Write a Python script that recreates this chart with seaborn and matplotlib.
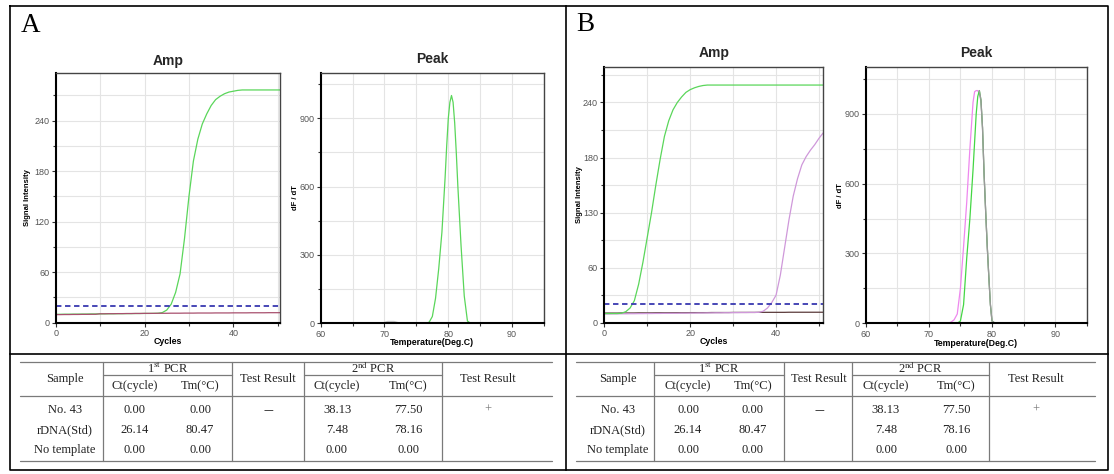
import matplotlib
matplotlib.use("Agg")
import matplotlib.pyplot as plt
import seaborn as sns
import pandas as pd
from matplotlib.ticker import MultipleLocator, FixedLocator

# ---------------- data ----------------
cycles = list(range(0, 52))
threshold = 20

A_amp_rdna = [10.0, 10.0, 10.1, 10.1, 10.2, 10.2, 10.3, 10.3, 10.4, 10.4,
              10.5, 10.5, 10.6, 10.6, 10.7, 10.7, 10.8, 10.8, 10.9, 10.9,
              11.0, 11.0, 11.1, 11.2, 12.0, 15.0, 22.0, 36.0, 58.0, 100.0,
              150.0, 192.0, 218.0, 236.0, 248.0, 258.0, 265.0, 269.0, 272.0, 274.0,
              275.0, 276.0, 276.5, 276.5, 276.5, 276.5, 276.5, 276.5, 276.5, 276.5,
              276.5, 276.5]
A_amp_no43 = [9.6, 9.6, 9.7, 9.7, 9.8, 9.8, 9.9, 9.9, 10.0, 10.0,
              10.6, 10.6, 10.7, 10.7, 10.8, 10.8, 10.9, 10.9, 11.0, 11.0,
              11.1, 11.1, 11.1, 11.2, 11.2, 11.2, 11.3, 11.3, 11.3, 11.4,
              11.4, 11.4, 11.5, 11.5, 11.5, 11.5, 11.6, 11.6, 11.6, 11.6,
              11.7, 11.7, 11.7, 11.7, 11.8, 11.8, 11.8, 11.8, 11.9, 11.9,
              11.9, 11.9]

B_amp_rdna = [10.0, 10.0, 10.0, 10.0, 10.3, 12.0, 16.0, 24.0, 42.0, 66.0,
              93.0, 120.0, 150.0, 178.0, 203.0, 220.0, 232.0, 240.0, 246.0, 251.0,
              254.0, 256.0, 257.5, 258.5, 259.0, 259.0, 259.0, 259.0, 259.0, 259.0,
              259.0, 259.0, 259.0, 259.0, 259.0, 259.0, 259.0, 259.0, 259.0, 259.0,
              259.0, 259.0, 259.0, 259.0, 259.0, 259.0, 259.0, 259.0, 259.0, 259.0,
              259.0, 259.0]
B_amp_no43 = [9.5, 9.5, 9.6, 9.6, 9.7, 9.7, 9.8, 9.8, 9.9, 9.9,
              10.0, 10.0, 10.1, 10.1, 10.2, 10.2, 10.3, 10.3, 10.4, 10.4,
              10.5, 10.5, 10.6, 10.6, 10.7, 10.7, 10.8, 10.8, 10.9, 10.9,
              11.0, 11.0, 11.1, 11.1, 11.2, 11.2, 11.3, 12.5, 16.0, 22.0,
              30.0, 52.0, 82.0, 112.0, 138.0, 157.0, 172.0, 181.0, 188.0, 194.0,
              201.0, 207.0]
B_amp_ntc = [10.5, 10.5, 10.5, 10.5, 10.6, 10.6, 10.6, 10.6, 10.7, 10.7,
             10.7, 10.7, 10.8, 10.8, 10.8, 10.8, 10.9, 10.9, 10.9, 10.9,
             11.0, 11.0, 11.0, 11.0, 11.0, 11.1, 11.1, 11.1, 11.1, 11.1,
             11.2, 11.2, 11.2, 11.2, 11.2, 11.2, 11.3, 11.3, 11.3, 11.3,
             11.3, 11.3, 11.3, 11.4, 11.4, 11.4, 11.4, 11.4, 11.4, 11.4,
             11.4, 11.4]

A_peak_rdna_T = [60, 76.5, 77, 77.5, 78, 78.5, 79, 79.5, 79.75, 80, 80.25, 80.5,
                 80.75, 81, 81.25, 81.5, 82, 82.5, 83, 83.5, 95]
A_peak_rdna_dF = [0, 0, 5, 30, 110, 240, 400, 640, 780, 900, 970, 1000,
                  970, 880, 750, 600, 340, 120, 10, 0, 0]
A_peak_no43_T = [60, 69.5, 70.5, 71.5, 72.5, 95]
A_peak_no43_dF = [0, 0, 8, 8, 0, 0]

B_peak_no43_T = [60, 73, 73.5, 74, 74.5, 75, 75.5, 76, 76.5, 77, 77.25, 77.5,
                 77.75, 78, 78.25, 78.5, 78.75, 79, 79.25, 79.5, 79.75, 80, 80.5, 95]
B_peak_no43_dF = [0, 0, 5, 15, 40, 150, 330, 520, 750, 950, 995, 1000,
                  1000, 985, 955, 840, 640, 480, 330, 200, 80, 10, 0, 0]
B_peak_rdna_T = [60, 74.5, 75, 75.5, 76, 76.5, 77, 77.5, 77.75, 78, 78.25, 78.5,
                 78.75, 79, 79.25, 79.5, 79.75, 80, 80.5, 95]
B_peak_rdna_dF = [0, 0, 10, 80, 280, 450, 660, 900, 975, 1000, 960, 840,
                  640, 480, 330, 200, 80, 10, 0, 0]
B_peak_flank_T = [78, 78.25, 78.5, 78.75, 79, 79.25, 79.5, 79.75, 80, 80.5]
B_peak_flank_dF = [1000, 960, 840, 640, 480, 330, 200, 80, 10, 0]

amp_yticks = [0, 60, 120, 180, 240]
amp_A_yticklabels = ["0", "60", "120", "180", "240"]
amp_B_yticklabels = ["0", "60", "130", "180", "240"]
amp_xticks = [0, 20, 40]
peak_yticks = [0, 300, 600, 900]
peak_xticks = [60, 70, 80, 90]

samples = ["No. 43", "rDNA(Std)", "No template"]
ct1 = ["0.00", "26.14", "0.00"]
tm1 = ["0.00", "80.47", "0.00"]
res1 = ["\u2014", "", ""]
ct2 = ["38.13", "7.48", "0.00"]
tm2 = ["77.50", "78.16", "0.00"]
res2 = ["+", "", ""]

# ---------------- style ----------------
sns.set_theme(style="white")
plt.rcParams['font.family'] = ['Liberation Sans', 'DejaVu Sans']
plt.rcParams['mathtext.fontset'] = 'stix'

W, H = 1114, 474
fig = plt.figure(figsize=(W / 100, H / 100), dpi=100)

def box(l, t, r, b):
    return [l / W, 1 - b / H, (r - l) / W, (b - t) / H]

# overlay in pixel coordinates for frames and tables
ov = fig.add_axes([0, 0, 1, 1])
ov.set_xlim(0, W)
ov.set_ylim(H, 0)
ov.axis('off')

fk = dict(color='black', lw=1.2, solid_capstyle='projecting')
ov.plot([10, 1108, 1108, 10, 10], [6, 6, 470, 470, 6], **fk)
ov.plot([566, 566], [6, 470], **fk)
ov.plot([10, 1108], [354, 354], **fk)

ov.text(21, 32, "A", fontfamily=['Liberation Serif'], fontsize=19.5, ha='left', va='baseline', color='black')
ov.text(576, 30.5, "B", fontfamily=['Liberation Serif'], fontsize=19.5, ha='left', va='baseline', color='black')

GREEN = '#5ad65a'
MAROON = '#a8506e'
BLUE = '#3838b0'
GRID = '#e4e4e4'

def style_axes(ax, xlim, ylim, xmaj, xmin, ymaj, ymin, yticklabels=None):
    ax.set_facecolor('white')
    ax.set_xlim(*xlim)
    ax.set_ylim(*ylim)
    ax.xaxis.set_major_locator(FixedLocator(xmaj))
    ax.xaxis.set_minor_locator(MultipleLocator(xmin))
    ax.yaxis.set_major_locator(FixedLocator(ymaj))
    ax.yaxis.set_minor_locator(MultipleLocator(ymin))
    if yticklabels is not None:
        ax.set_yticklabels(yticklabels)
    ax.grid(True, which='both', color=GRID, lw=0.8)
    ax.set_axisbelow(True)
    for s in ['top', 'right']:
        ax.spines[s].set_color('#444444')
        ax.spines[s].set_linewidth(1.0)
    for s in ['left', 'bottom']:
        ax.spines[s].set_color('black')
        ax.spines[s].set_linewidth(1.5)
    ax.tick_params(which='major', bottom=True, left=True, direction='out', length=3,
                   width=0.8, color='#333333', labelsize=6.5, labelcolor='#555555', pad=1.5)
    ax.tick_params(which='minor', bottom=True, left=True, direction='out', length=2,
                   width=0.8, color='#333333')

def labels(ax, title, toff, xl, xly, yl, ylx):
    ax.set_title(title, fontsize=10, fontweight='bold', y=1 + toff, va='center', pad=0)
    ax.set_xlabel(xl, fontsize=6.3, fontweight='bold', color='black')
    ax.xaxis.set_label_coords(0.5, xly)
    ax.set_ylabel(yl, fontsize=5.5, fontweight='bold', color='black')
    ax.yaxis.set_label_coords(ylx, 0.5)

# ---------- A Amp ----------
axA1 = fig.add_axes(box(55.7, 72.7, 280, 322.7))
dfA1 = pd.DataFrame({
    'Cycle': cycles * 2,
    'Signal': A_amp_rdna + A_amp_no43,
    'Sample': ['rDNA(Std)'] * len(cycles) + ['No. 43'] * len(cycles)})
sns.lineplot(data=dfA1, x='Cycle', y='Signal', hue='Sample', hue_order=['rDNA(Std)', 'No. 43'],
             palette={'rDNA(Std)': GREEN, 'No. 43': MAROON}, lw=0.9, legend=False, ax=axA1)
axA1.axhline(threshold, color=BLUE, lw=1.3, ls=(0, (3, 2)))
style_axes(axA1, (0, 50.5), (0, 297), amp_xticks, 10, amp_yticks, 30, amp_A_yticklabels)
labels(axA1, 'Amp', 0.047, 'Cycles', -0.059, 'Signal Intensity', -0.108)

# ---------- A Peak ----------
axA2 = fig.add_axes(box(320.7, 72.7, 544, 323.3))
dfA2 = pd.DataFrame({
    'Temp': A_peak_no43_T + A_peak_rdna_T,
    'dFdT': A_peak_no43_dF + A_peak_rdna_dF,
    'Sample': ['No. 43'] * len(A_peak_no43_T) + ['rDNA(Std)'] * len(A_peak_rdna_T)})
sns.lineplot(data=dfA2, x='Temp', y='dFdT', hue='Sample', hue_order=['No. 43', 'rDNA(Std)'],
             palette={'No. 43': '#c8c8c8', 'rDNA(Std)': GREEN}, lw=0.9, legend=False, ax=axA2)
style_axes(axA2, (60, 95), (0, 1100), peak_xticks, 5, peak_yticks, 150)
labels(axA2, 'Peak', 0.055, 'Temperature(Deg.C)', -0.057, 'dF / dT', -0.095)

# ---------- B Amp ----------
axB1 = fig.add_axes(box(604.3, 66.7, 823.3, 322.7))
dfB1 = pd.DataFrame({
    'Cycle': cycles * 3,
    'Signal': B_amp_ntc + B_amp_no43 + B_amp_rdna,
    'Sample': ['No template'] * len(cycles) + ['No. 43'] * len(cycles) + ['rDNA(Std)'] * len(cycles)})
sns.lineplot(data=dfB1, x='Cycle', y='Signal', hue='Sample',
             hue_order=['No template', 'No. 43', 'rDNA(Std)'],
             palette={'No template': '#5a3a3a', 'No. 43': '#cf98da', 'rDNA(Std)': GREEN},
             lw=0.9, legend=False, ax=axB1)
axB1.axhline(threshold, color=BLUE, lw=1.3, ls=(0, (3, 2)))
style_axes(axB1, (0, 51), (0, 279), amp_xticks, 10, amp_yticks, 30, amp_B_yticklabels)
labels(axB1, 'Amp', 0.052, 'Cycles', -0.057, 'Signal Intensity', -0.098)

# ---------- B Peak ----------
axB2 = fig.add_axes(box(865.7, 67.3, 1086.7, 323.3))
dfB2 = pd.DataFrame({
    'Temp': B_peak_no43_T + B_peak_rdna_T + B_peak_flank_T,
    'dFdT': B_peak_no43_dF + B_peak_rdna_dF + B_peak_flank_dF,
    'Sample': ['No. 43'] * len(B_peak_no43_T) + ['rDNA(Std)'] * len(B_peak_rdna_T)
              + ['overlap'] * len(B_peak_flank_T)})
sns.lineplot(data=dfB2, x='Temp', y='dFdT', hue='Sample', hue_order=['No. 43', 'rDNA(Std)', 'overlap'],
             palette={'No. 43': '#ee88ee', 'rDNA(Std)': '#44d644', 'overlap': '#9a9a9a'},
             lw=0.9, legend=False, ax=axB2)
style_axes(axB2, (60, 95), (0, 1100), peak_xticks, 5, peak_yticks, 150)
labels(axB2, 'Peak', 0.055, 'Temperature(Deg.C)', -0.061, 'dF / dT', -0.099)

# ---------- tables ----------
LINE = '#7a7a7a'
tk = dict(fontfamily=['Liberation Serif'], fontsize=9, ha='center', va='center', color='#222222')

def draw_table(xl, xr, vx, cx):
    y_top, y_sub, y_head, y_bot = 362, 375, 396, 461
    ov.plot([xl, xr], [y_top, y_top], color=LINE, lw=0.9)
    ov.plot([xl, xr], [y_head, y_head], color=LINE, lw=0.9)
    ov.plot([xl, xr], [y_bot, y_bot], color=LINE, lw=0.9)
    ov.plot([vx[0], vx[1]], [y_sub, y_sub], color=LINE, lw=0.9)
    ov.plot([vx[2], vx[3]], [y_sub, y_sub], color=LINE, lw=0.9)
    for v in vx:
        ov.plot([v, v], [y_top, y_bot], color=LINE, lw=0.9)
    y1, y2, ym = 368.5, 386, 379
    ov.text(cx[0], ym, "Sample", **tk)
    ov.text((vx[0] + vx[1]) / 2, y1, "1$^{\\rm st}$ PCR", **tk)
    ov.text(cx[1], y2, "Ct(cycle)", **tk)
    ov.text(cx[2], y2, "Tm(\u00b0C)", **tk)
    ov.text(cx[3], ym, "Test Result", **tk)
    ov.text((vx[2] + vx[3]) / 2, y1, "2$^{\\rm nd}$ PCR", **tk)
    ov.text(cx[4], y2, "Ct(cycle)", **tk)
    ov.text(cx[5], y2, "Tm(\u00b0C)", **tk)
    ov.text(cx[6], ym, "Test Result", **tk)
    rows_y = [410, 430, 450]
    for i, ry in enumerate(rows_y):
        ov.text(cx[0], ry, samples[i], **tk)
        ov.text(cx[1], ry, ct1[i], **tk)
        ov.text(cx[2], ry, tm1[i], **tk)
        if res1[i]:
            ov.text(cx[3], ry, res1[i], fontfamily=['DejaVu Sans'], fontsize=7, ha='center',
                    va='center', color='#222222')
        ov.text(cx[4], ry, ct2[i], **tk)
        ov.text(cx[5], ry, tm2[i], **tk)
        if res2[i]:
            ov.text(cx[6], ry, res2[i], fontfamily=['Liberation Serif'], fontsize=9,
                    ha='center', va='center', color='#777777')

draw_table(20, 552, [103, 232, 304, 442], [65, 135, 200, 268, 337, 408, 488])
draw_table(576, 1095, [654, 784, 852, 989], [618, 688, 753, 819, 886, 956, 1036])

fig.savefig('out.png', dpi=100, facecolor='white')
